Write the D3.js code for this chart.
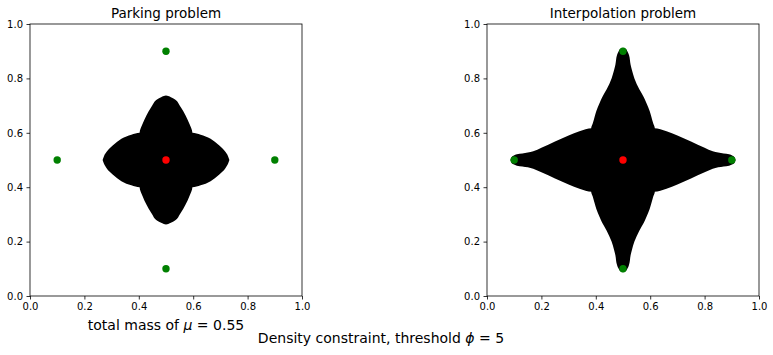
<!DOCTYPE html>
<html><head><meta charset="utf-8">
<script src="https://cdn.jsdelivr.net/npm/d3@7"></script>
<style>body{margin:0;background:#fff}svg{display:block}text{font-family:"DejaVu Sans",sans-serif}</style>
</head><body>
<script>
// ---- data ----
const panelTitles = ["Parking problem", "Interpolation problem"];
const tickValues = [0, 0.2, 0.4, 0.6, 0.8, 1.0];
const centreX = [0.5], centreY = [0.5];
const targetX = [0.5, 0.1, 0.9, 0.5];
const targetY = [0.9, 0.5, 0.5, 0.1];
// lobe profiles: offset from centre along lobe axis, half-width across it
const parkH_d = [0, 0.097, 0.1275, 0.164, 0.195, 0.219, 0.228, 0.233];
const parkH_w = [0.102, 0.100, 0.093, 0.078, 0.054, 0.029, 0.014, 0];
const parkV_d = [0, 0.10, 0.1335, 0.164, 0.195, 0.2254, 0.231, 0.235, 0.237];
const parkV_w = [0.099, 0.097, 0.086, 0.072, 0.054, 0.029, 0.018, 0.008, 0];
const interpH_d = [0, 0.115, 0.16, 0.2, 0.25, 0.3, 0.33, 0.37, 0.39, 0.403, 0.41, 0.414];
const interpH_w = [0.118, 0.117, 0.106, 0.09, 0.068, 0.045, 0.032, 0.024, 0.021, 0.016, 0.01, 0];
const interpV_d = [0, 0.117, 0.135, 0.16, 0.18, 0.21, 0.23, 0.26, 0.30, 0.33, 0.35, 0.386, 0.40, 0.408, 0.413];
const interpV_w = [0.118, 0.117, 0.111, 0.104, 0.098, 0.086, 0.077, 0.06, 0.042, 0.033, 0.028, 0.022, 0.016, 0.01, 0];
const massLabel = "0.55";
const thresholdLabel = "5";

const W = 773, H = 355;
const svg = d3.select("body").append("svg").attr("width", W).attr("height", H);
const defs = svg.append("defs");
defs.append("filter").attr("id", "soft").append("feGaussianBlur").attr("stdDeviation", 0.45);

const panels = [
  {left: 30, title: panelTitles[0], h: [parkH_d, parkH_w], v: [parkV_d, parkV_w]},
  {left: 487, title: panelTitles[1], h: [interpH_d, interpH_w], v: [interpV_d, interpV_w]}
];
const size = 272, plotTop = 24;

// full profile from -tip to +tip along the lobe axis
function profile(ds, ws) {
  const pts = [];
  for (let i = ds.length - 1; i >= 0; i--) pts.push({d: -ds[i], w: ws[i]});
  for (let i = 1; i < ds.length; i++) pts.push({d: ds[i], w: ws[i]});
  return pts;
}

panels.forEach(p => {
  const x = d3.scaleLinear().domain([0, 1]).range([p.left, p.left + size]);
  const y = d3.scaleLinear().domain([0, 1]).range([plotTop + size, plotTop]);
  const g = svg.append("g");
  const shape = g.append("g").attr("filter", "url(#soft)");
  const hArea = d3.area().curve(d3.curveMonotoneX)
    .x(q => x(centreX[0] + q.d)).y0(q => y(centreY[0] - q.w)).y1(q => y(centreY[0] + q.w));
  const vArea = d3.area().curve(d3.curveMonotoneY)
    .y(q => y(centreY[0] + q.d)).x0(q => x(centreX[0] - q.w)).x1(q => x(centreX[0] + q.w));
  shape.append("path").attr("d", hArea(profile(p.h[0], p.h[1]))).attr("fill", "#000");
  shape.append("path").attr("d", vArea(profile(p.v[0], p.v[1]).reverse())).attr("fill", "#000");
  g.selectAll(".tg").data(targetX).enter().append("circle")
    .attr("cx", d => x(d)).attr("cy", (d, i) => y(targetY[i])).attr("r", 3.7).attr("fill", "#008000");
  g.selectAll(".ct").data(centreX).enter().append("circle")
    .attr("cx", d => x(d)).attr("cy", (d, i) => y(centreY[i])).attr("r", 3.7).attr("fill", "#ff0000");
  const ax = g.append("g").attr("transform", `translate(0,${plotTop + size})`)
    .call(d3.axisBottom(x).tickValues(tickValues).tickFormat(d3.format(".1f")).tickSize(3.5).tickPadding(3.5).tickSizeOuter(0));
  const ay = g.append("g").attr("transform", `translate(${p.left},0)`)
    .call(d3.axisLeft(y).tickValues(tickValues).tickFormat(d3.format(".1f")).tickSize(3.5).tickPadding(3.5).tickSizeOuter(0));
  [ax, ay].forEach(a => {
    a.select(".domain").remove();
    a.selectAll("text").attr("font-size", 10).attr("fill", "#000").attr("font-family", "DejaVu Sans");
    a.selectAll("line").attr("stroke", "#000").attr("stroke-width", 0.8);
  });
  g.append("rect").attr("x", p.left).attr("y", plotTop).attr("width", size).attr("height", size)
    .attr("fill", "none").attr("stroke", "#000").attr("stroke-width", 0.8);
  g.append("text").attr("x", p.left + size / 2).attr("y", plotTop - 6).attr("text-anchor", "middle")
    .attr("font-size", 13.5).text(p.title);
});

const cap = svg.append("text").attr("x", 166).attr("y", 330).attr("text-anchor", "middle").attr("font-size", 14);
cap.append("tspan").text("total mass of ");
cap.append("tspan").attr("font-style", "italic").text("μ");
cap.append("tspan").text(" = " + massLabel);

const sup = svg.append("text").attr("x", 381).attr("y", 343).attr("text-anchor", "middle").attr("font-size", 14);
sup.append("tspan").text("Density constraint, threshold ");
sup.append("tspan").attr("font-style", "italic").text("ϕ");
sup.append("tspan").text(" = " + thresholdLabel);
</script>
</body></html>
